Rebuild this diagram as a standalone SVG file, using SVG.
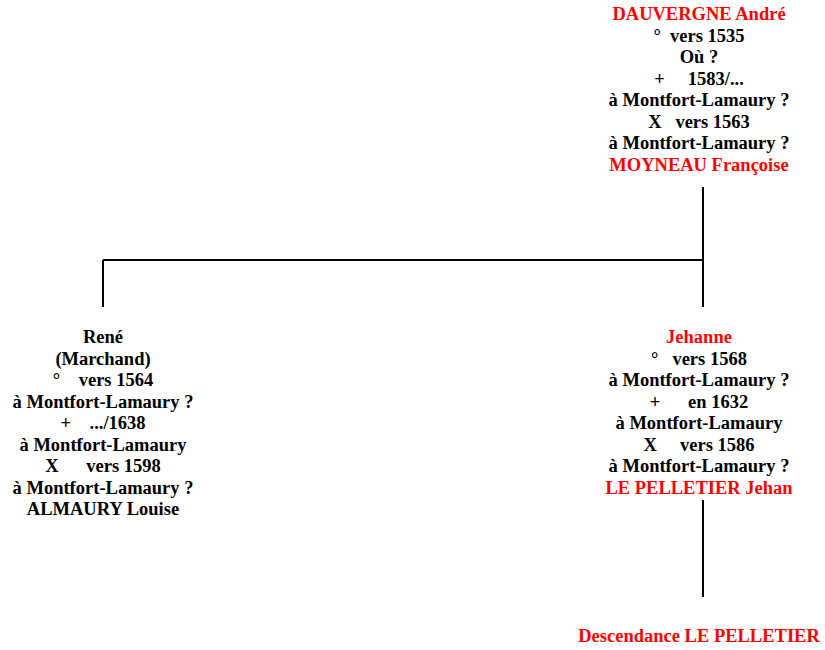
<svg xmlns="http://www.w3.org/2000/svg" width="825" height="650" viewBox="0 0 825 650">
<style>
text{font-family:"Liberation Serif","Times New Roman",serif;font-weight:bold;font-size:18.5px;text-anchor:middle;white-space:pre;fill:#000}
.r{fill:#ff0000}
.ln{stroke:#000;stroke-width:2;fill:none}
</style>
<rect width="825" height="650" fill="#fff"/>
<g id="connectors">
<path class="ln" d="M703 187V307M103 260H703M103 260V307M703 500V597"/>
</g>
<g id="dauvergne" transform="translate(699,0)">
<text class="r" y="20">DAUVERGNE André</text>
<text y="41.5">°  vers 1535</text>
<text y="63">Où ?</text>
<text y="84.5">+     1583/...</text>
<text y="106">à Montfort-Lamaury ?</text>
<text y="127.5">X   vers 1563</text>
<text y="149">à Montfort-Lamaury ?</text>
<text class="r" y="170.5">MOYNEAU Françoise</text>
</g>
<g id="rene" transform="translate(103,0)">
<text y="343">René</text>
<text y="364.5">(Marchand)</text>
<text y="386">°    vers 1564</text>
<text y="407.5">à Montfort-Lamaury ?</text>
<text y="429">+    .../1638</text>
<text y="450.5">à Montfort-Lamaury</text>
<text y="472">X      vers 1598</text>
<text y="493.5">à Montfort-Lamaury ?</text>
<text y="515">ALMAURY Louise</text>
</g>
<g id="jehanne" transform="translate(699,0)">
<text class="r" y="343">Jehanne</text>
<text y="364.5">°   vers 1568</text>
<text y="386">à Montfort-Lamaury ?</text>
<text y="407.5">+      en 1632</text>
<text y="429">à Montfort-Lamaury</text>
<text y="450.5">X     vers 1586</text>
<text y="472">à Montfort-Lamaury ?</text>
<text class="r" y="493.5">LE PELLETIER Jehan</text>
</g>
<g id="descendance">
<text class="r" x="699" y="642">Descendance LE PELLETIER</text>
</g>
</svg>
